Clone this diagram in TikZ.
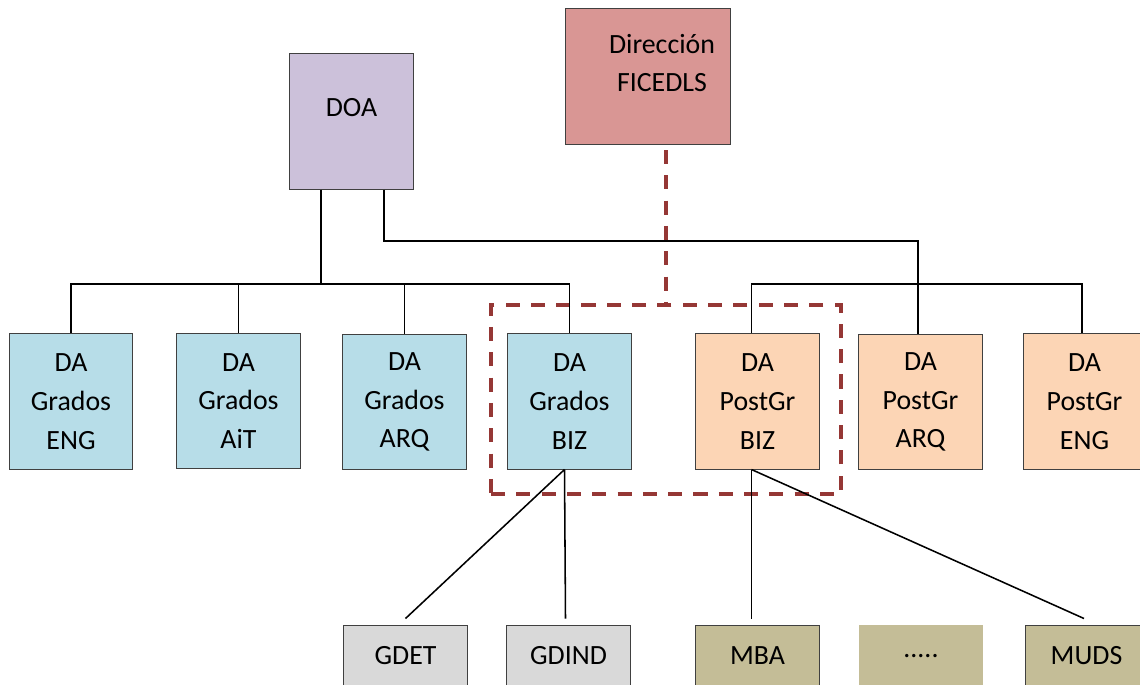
\documentclass[tikz,border=0pt]{standalone}
\usepackage{fontspec}
\setmainfont{Carlito}
\usetikzlibrary{calc}

\definecolor{grblue}{HTML}{B7DDE8}
\definecolor{pgpeach}{HTML}{FCD5B5}
\definecolor{doalila}{HTML}{CCC1DA}
\definecolor{dirpink}{HTML}{D99694}
\definecolor{titgray}{HTML}{D9D9D9}
\definecolor{maskhaki}{HTML}{C4BD97}
\definecolor{framered}{HTML}{953735}
\definecolor{boxline}{HTML}{404040}

\begin{document}
\begin{tikzpicture}[x=0.025cm,y=-0.025cm,
  every node/.style={font=\fontsize{19.8}{27.5}\selectfont},
  box/.style={draw=boxline,line width=0.7pt,minimum width=3.075cm,minimum height=3.375cm,align=center,inner sep=0pt},
  smallbox/.style={draw=boxline,line width=0.7pt,minimum width=3.075cm,minimum height=1.55cm,inner sep=0pt},
  txt/.style={inner sep=0pt,align=center},
  link/.style={line width=1.1pt},
  reddash/.style={draw=framered,line width=2.6pt,dash pattern=on 10pt off 8pt}]

\useasboundingbox (0,0) rectangle (1140,685);

% top
\node[box,fill=doalila] (doa) at (351.5,121.5) {};
\node[txt] (doatxt) at (351.5,108) {DOA};
\node[box,fill=dirpink,minimum width=4.1cm] (dir) at (648,76.5) {};
\node[txt] (dirtxt) at (662,63) {Dirección\\FICEDLS};

% grados
\node[box,fill=grblue] (eng) at (71,401.5) {DA\\Grados\\ENG};
\node[box,fill=grblue] (ait) at (238.5,401) {DA\\Grados\\AiT};
\node[box,fill=grblue] (arq) at (404.5,402) {DA\\Grados\\ARQ};
\node[box,fill=grblue] (gbiz) at (569.5,401.5) {DA\\Grados\\BIZ};

% postgrado
\node[box,fill=pgpeach] (pbiz) at (757.5,401.5) {DA\\PostGr\\BIZ};
\node[box,fill=pgpeach] (parq) at (920.5,402) {DA\\PostGr\\ARQ};
\node[box,fill=pgpeach] (peng) at (1084.5,401.5) {DA\\PostGr\\ENG};

% titulos
\node[smallbox,fill=titgray] (gdet) at (405.5,656) {GDET};
\node[smallbox,fill=titgray] (gdind) at (568.5,656) {GDIND};
\node[smallbox,fill=maskhaki] (mba) at (757.5,656) {MBA};
\node[smallbox,fill=maskhaki,draw=none] (dots) at (921,656) {.....};
\node[smallbox,fill=maskhaki] (muds) at (1086.5,656) {MUDS};

% frame
\node[reddash,minimum width=8.75cm,minimum height=4.725cm,inner sep=0pt] (grp) at (666,399.5) {};
\coordinate (dirfoot) at (666,150);
\draw[reddash] (dirfoot) -- (grp.north);

% buses
\coordinate (busL) at (321,284);
\draw[link] ($(doa.south)+(-30.5,0)$) -- (busL);
\draw[link] (eng.north) -- (eng.north |- busL) -- (gbiz.north |- busL) -- (gbiz.north);
\draw[link] (ait.north) -- (ait.north |- busL);
\draw[link] (arq.north) -- (arq.north |- busL);
\draw[link] ($(doa.south)+(32.5,0)$) |- ($(parq.north)+(-2.5,-93)$) -- ($(parq.north)+(-2.5,0)$);
\draw[link] ($(pbiz.north)+(-6,0)$) -- ($(pbiz.north |- busL)+(-6,0)$) -- ($(peng.north |- busL)+(-2.5,0)$) -- ($(peng.north)+(-2.5,0)$);

% down
\draw[link] ($(gbiz.south)+(-5,0)$) -- ($(gdet.north)+(0,-6)$);
\draw[link] ($(gbiz.south)+(-5,0)$) -- ($(gdind.north)+(-3,-6)$);
\draw[link] ($(pbiz.south)+(-6,0)$) -- ($(mba.north)+(-6,-6)$);
\draw[link] ($(pbiz.south)+(-6,0)$) -- ($(muds.north)+(-2.5,-6)$);
\end{tikzpicture}
\end{document}
